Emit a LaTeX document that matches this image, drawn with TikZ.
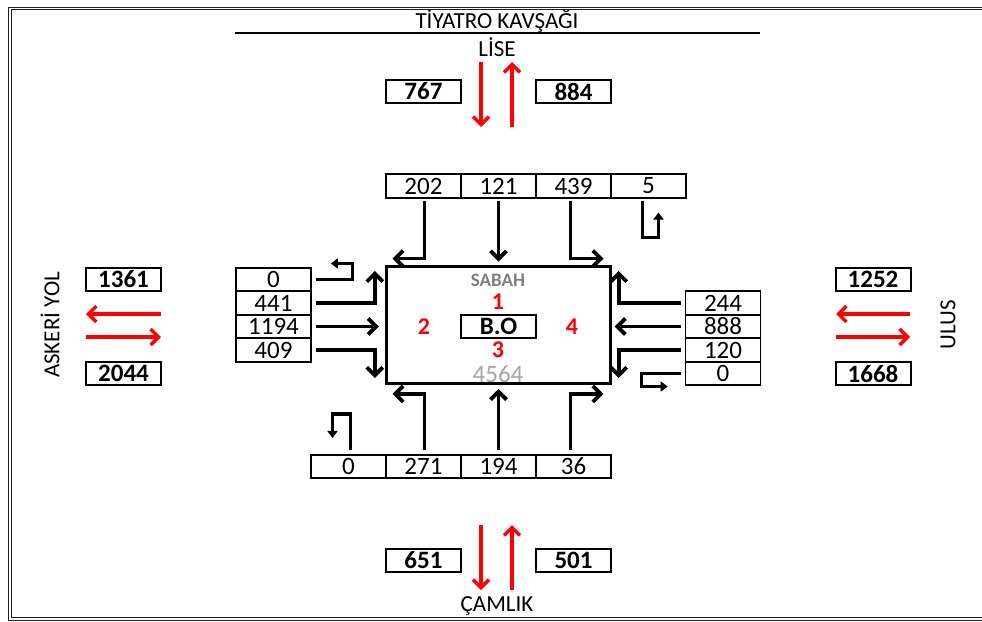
\documentclass[tikz,border=0pt]{standalone}
\usepackage{fontspec}
\setmainfont{Carlito}
\usetikzlibrary{arrows.meta}
\definecolor{sabahgray}{RGB}{128,128,128}
\definecolor{totgray}{RGB}{166,166,166}
\definecolor{framegray}{RGB}{30,30,30}
\tikzset{
  cell/.style={draw, line width=1.6pt, minimum width=75pt, minimum height=23.5pt, inner sep=0pt, font=\fontsize{25}{26}\selectfont},
  bcell/.style={cell, line width=2pt, font=\bfseries\fontsize{25}{26}\selectfont},
  lbl/.style={inner sep=0pt, font=\fontsize{23}{25}\selectfont},
  rednum/.style={inner sep=0pt, text=red, font=\bfseries\fontsize{24}{26}\selectfont},
  blk/.style={line width=3.8pt, -{Straight Barb[length=8pt,width=16pt]}},
  blksmall/.style={line width=3.2pt, -{Triangle[length=7pt,width=10pt]}},
  redarr/.style={red, line width=3.5pt, -{Straight Barb[length=8pt,width=16pt]}}
}
\begin{document}
\begin{tikzpicture}[x=1pt,y=-1pt]
\useasboundingbox (0,0) rectangle (982,621);
% outer frame
\draw[framegray, double, double distance=1.3pt, line width=1pt] (990,8.7) -- (9.9,8.7) -- (9.9,619) -- (990,619);
% title
\node[lbl] (title) at (497,21) {TİYATRO KAVŞAĞI};
\coordinate (tl1) at (235,33);
\coordinate (tl2) at (760,33);
\draw[line width=1.2pt] (tl1) -- (tl2);
\node[lbl] (lise) at (497,47) {LİSE};
\node[lbl] (camlik) at (497,606) {ÇAMLIK};
\node[lbl, rotate=90] (askeri) at (50,325) {ASKERİ YOL};
\node[lbl, rotate=90] (ulus) at (948,325) {ULUS};
% bold total boxes
\node[bcell] (n767) at (423.5,91.5) {767};
\node[bcell] (n884) at (573.5,91.5) {884};
\node[bcell] (n651) at (423.5,560.5) {651};
\node[bcell] (n501) at (573.5,560.5) {501};
\node[bcell] (n1361) at (123.5,279.5) {1361};
\node[bcell] (n2044) at (123.5,373.5) {2044};
\node[bcell] (n1252) at (873,279.5) {1252};
\node[bcell] (n1668) at (873,373.5) {1668};
% red arrows
\coordinate (ta1) at (481,62); \coordinate (ta2) at (481,127);
\coordinate (tb1) at (512,127); \coordinate (tb2) at (512,62);
\draw[redarr] (ta1) -- (ta2);
\draw[redarr] (tb1) -- (tb2);
\coordinate (ba1) at (481,525); \coordinate (ba2) at (481,590);
\coordinate (bb1) at (512,590); \coordinate (bb2) at (512,525);
\draw[redarr] (ba1) -- (ba2);
\draw[redarr] (bb1) -- (bb2);
\coordinate (la1) at (161,314); \coordinate (la2) at (86,314);
\coordinate (lb1) at (86,337); \coordinate (lb2) at (161,337);
\draw[redarr] (la1) -- (la2);
\draw[redarr] (lb1) -- (lb2);
\coordinate (ra1) at (910,314); \coordinate (ra2) at (836,314);
\coordinate (rb1) at (836,337); \coordinate (rb2) at (910,337);
\draw[redarr] (ra1) -- (ra2);
\draw[redarr] (rb1) -- (rb2);
% central box
\node[draw, line width=3pt, minimum width=224pt, minimum height=117pt, inner sep=0pt] (center) at (498,324.5) {};
\node[inner sep=0pt, text=sabahgray, font=\bfseries\fontsize{19}{21}\selectfont] (sabah) at (498,280) {SABAH};
\node[rednum] (c1) at (498,302) {1};
\node[rednum] (c2) at (424,327) {2};
\node[rednum] (c4) at (572,327) {4};
\node[rednum] (c3) at (498,350) {3};
\node[draw, line width=2pt, minimum width=75pt, minimum height=23.5pt, inner sep=0pt, font=\bfseries\fontsize{25}{26}\selectfont] (bo) at (498.5,326.5) {B.O};
\node[inner sep=0pt, text=totgray, font=\fontsize{25}{26}\selectfont] (tot) at (498,374) {4564};
% top approach cells
\node[cell] (t1) at (423.5,186) {202};
\node[cell] (t2) at (498.5,186) {121};
\node[cell] (t3) at (573.5,186) {439};
\node[cell] (t4) at (648.5,186) {5};
% left approach cells
\node[cell] (l1) at (273.5,279.5) {0};
\node[cell] (l2) at (273.5,303) {441};
\node[cell] (l3) at (273.5,326.5) {1194};
\node[cell] (l4) at (273.5,350) {409};
% right approach cells
\node[cell] (r1) at (723,303) {244};
\node[cell] (r2) at (723,326.5) {888};
\node[cell] (r3) at (723,350) {120};
\node[cell] (r4) at (723,373.5) {0};
% bottom approach cells
\node[cell] (b1) at (348.5,466.5) {0};
\node[cell] (b2) at (423.5,466.5) {271};
\node[cell] (b3) at (498.5,466.5) {194};
\node[cell] (b4) at (573.5,466.5) {36};
% top movements
\draw[blk] ([shift={(1pt,-2pt)}]t1.south) -- ++(0,58) -- ++(-32,0);
\draw[blk] ([yshift=-2pt]t2.south) -- ++(0,61);
\draw[blk] ([shift={(-3pt,-2pt)}]t3.south) -- ++(0,58) -- ++(33,0);
\draw[blksmall] ([shift={(-6pt,-2pt)}]t4.south) -- ++(0,37) -- ++(16,0) -- ++(0,-25);
% left movements
\draw[blksmall] ([xshift=4pt]l1.east) -- ++(37,0) -- ++(0,-16) -- ++(-22,0);
\draw[blk] ([xshift=4pt]l2.east) -- ++(59,0) -- ++(0,-32);
\draw[blk] ([xshift=4pt]l3.east) -- ++(63,0);
\draw[blk] ([xshift=4pt]l4.east) -- ++(59,0) -- ++(0,28);
% right movements
\draw[blk] ([xshift=-4pt]r1.west) -- ++(-62,0) -- ++(0,-32);
\draw[blk] ([xshift=-4pt]r2.west) -- ++(-66,0);
\draw[blk] ([xshift=-4pt]r3.west) -- ++(-62,0) -- ++(0,28);
\draw[blksmall] ([xshift=-4pt]r4.west) -- ++(-39,0) -- ++(0,13) -- ++(26,0);
% bottom movements
\draw[blksmall] ([shift={(2pt,4pt)}]b1.north) -- ++(0,-36) -- ++(-18,0) -- ++(0,24);
\draw[blk] ([shift={(1pt,4pt)}]b2.north) -- ++(0,-56) -- ++(-32,0);
\draw[blk] ([yshift=4pt]b3.north) -- ++(0,-61);
\draw[blk] ([shift={(-3pt,4pt)}]b4.north) -- ++(0,-56) -- ++(33,0);
\end{tikzpicture}
\end{document}
